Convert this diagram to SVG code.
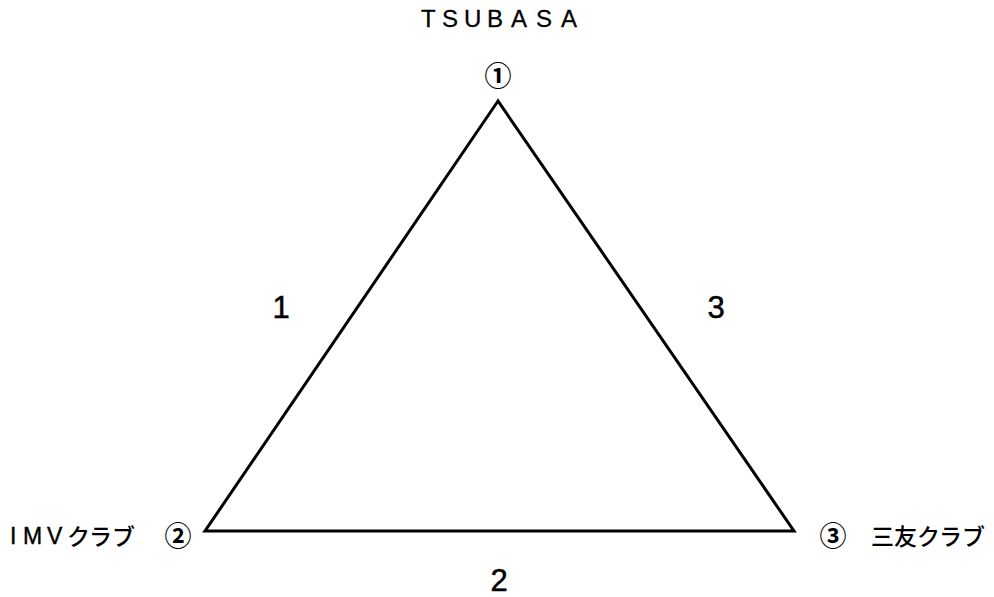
<svg xmlns="http://www.w3.org/2000/svg" width="994" height="597" viewBox="0 0 994 597">
<style>
.t{font-family:"Liberation Sans","Noto Sans CJK JP",sans-serif;fill:#000}
.j{font-family:"Noto Sans CJK JP","Liberation Sans",sans-serif;fill:#000}
.c{font-family:"Noto Sans CJK JP",sans-serif;fill:#000;font-size:27px;font-weight:700;text-anchor:middle}
.edge{fill:none;stroke:#000;stroke-width:3;stroke-linejoin:miter}
</style>
<rect width="994" height="597" fill="#fff"/>
<g id="connectors">
<polygon class="edge" points="498,101 205,531 794,531"/>
</g>
<g id="node1">
<text class="t" y="27" font-size="24" stroke="#000" stroke-width="0.3"><tspan x="421">T</tspan><tspan x="442">S</tspan><tspan x="464">U</tspan><tspan x="487">B</tspan><tspan x="511">A</tspan><tspan x="536">S</tspan><tspan x="561">A</tspan></text>
<text class="c" x="498" y="86">①</text>
</g>
<g id="node2">
<text class="t" font-size="23" y="544" stroke="#000" stroke-width="0.4"><tspan x="10">I</tspan><tspan x="23">M</tspan><tspan x="47">V</tspan></text>
<text class="j" y="545" font-size="23" font-weight="500"><tspan x="67">ク</tspan><tspan x="89">ラ</tspan><tspan x="112">ブ</tspan></text>
<text class="c" x="178" y="546">②</text>
</g>
<g id="node3">
<text class="c" x="833" y="546">③</text>
<text class="j" y="545" font-size="23" font-weight="500"><tspan x="871">三</tspan><tspan x="894">友</tspan><tspan x="917">ク</tspan><tspan x="939">ラ</tspan><tspan x="962">ブ</tspan></text>
</g>
<g id="labels">
<text class="t" x="281" y="318" font-size="31" text-anchor="middle" stroke="#000" stroke-width="0.5">1</text>
<text class="t" x="499" y="591" font-size="31" text-anchor="middle" stroke="#000" stroke-width="0.5">2</text>
<text class="t" x="716" y="318" font-size="31" text-anchor="middle" stroke="#000" stroke-width="0.5">3</text>
</g>
</svg>
